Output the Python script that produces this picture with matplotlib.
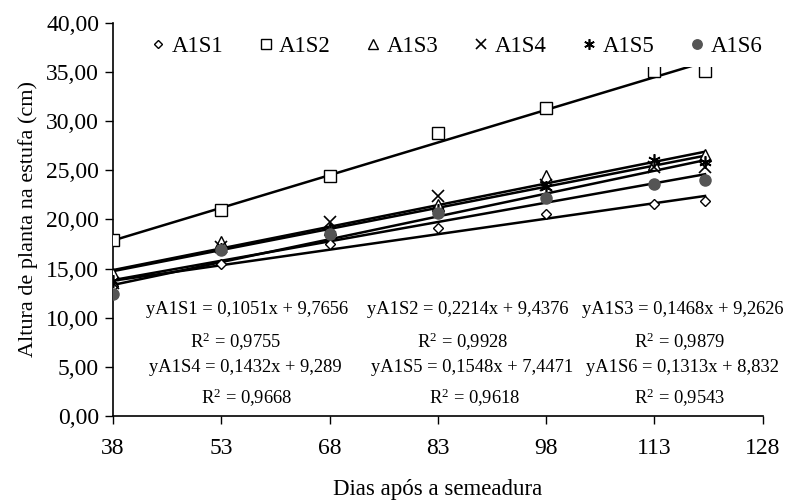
import numpy as np
import matplotlib
matplotlib.use("Agg")
import matplotlib.pyplot as plt
from matplotlib.ticker import FuncFormatter

plt.rcParams.update({
    'font.family': 'Liberation Serif',
    'mathtext.fontset': 'custom',
    'mathtext.rm': 'Liberation Serif',
    'mathtext.it': 'Liberation Serif:italic',
    'font.size': 14,
})

# ── Data ─────────────────────────────────────────────
DAYS = [38, 53, 68, 83, 98, 113, 120]
A1S1 = [13.2, 15.5, 17.5, 19.1, 20.5, 21.6, 21.9]
A1S2 = [17.9, 20.9, 24.4, 28.8, 31.3, 35.1, 35.1]
A1S3 = [14.4, 17.7, 19.0, 21.5, 24.4, 25.6, 26.5]
A1S4 = [13.5, 17.2, 19.7, 22.4, 23.5, 25.3, 25.3]
A1S5 = [13.7, 17.0, 19.0, 21.0, 23.3, 26.0, 25.8]
A1S6 = [12.4, 16.9, 18.5, 20.6, 22.2, 23.6, 24.0]

NAMES = ["A1S1", "A1S2", "A1S3", "A1S4", "A1S5", "A1S6"]
SLOPES = [0.1051, 0.2214, 0.1468, 0.1432, 0.1548, 0.1313]
INTERCEPTS = [9.7656, 9.4376, 9.2626, 9.289, 7.4471, 8.832]
R2 = ["0,9755", "0,9928", "0,9879", "0,9668", "0,9618", "0,9543"]
EQ_TXT = ["0,1051x + 9,7656", "0,2214x + 9,4376", "0,1468x + 9,2626",
          "0,1432x + 9,289", "0,1548x + 7,4471", "0,1313x + 8,832"]

SERIES = [A1S1, A1S2, A1S3, A1S4, A1S5, A1S6]
MARK = {
    "A1S1": dict(marker='D', ms=5, mfc='white', mec='black', mew=1.0),
    "A1S2": dict(marker='s', ms=8, mfc='white', mec='black', mew=1.0),
    "A1S3": dict(marker='^', ms=8, mfc='white', mec='black', mew=1.0),
    "A1S4": dict(marker='x', ms=8, mfc='black', mec='black', mew=1.2),
    "A1S5": dict(marker=(6, 2, 0), ms=9, mfc='black', mec='black', mew=1.2),
    "A1S6": dict(marker='o', ms=8, mfc='#555555', mec='#555555', mew=1.0),
}

fig = plt.figure(figsize=(7.88, 5.04), dpi=100)
ax = fig.add_axes([0.1434, 0.1746, 0.8246, 0.7804])

xfit = np.array([DAYS[0], DAYS[-1]])
for name, ys, a, b in zip(NAMES, SERIES, SLOPES, INTERCEPTS):
    ax.plot(xfit, a * xfit + b, color='black', lw=1.8, zorder=2)
    ax.plot(DAYS, ys, ls='none', label=name, zorder=3, **MARK[name])

# equations (centres)
eq_x = [56.5, 87.2, 116.9, 56.3, 87.7, 116.9]
r2_x = [55.0, 86.5, 116.5, 56.5, 88.1, 116.5]
eq_y = [10.8, 10.8, 10.8, 4.9, 4.9, 4.9]
r2_y = [7.5, 7.5, 7.5, 1.8, 1.8, 1.8]
for ex, ey, rx, ry, name, eq, r2 in zip(eq_x, eq_y, r2_x, r2_y, NAMES, EQ_TXT, R2):
    ax.text(ex, ey, f"y{name} = {eq}", ha='center', va='center', fontsize=13.3)
    ax.text(rx, ry, f"R$^2$ = {r2}", ha='center', va='center', fontsize=13.3)

ax.set_xlim(38, 128)
ax.set_ylim(0, 40)
ax.set_xticks(np.arange(38, 129, 15))
ax.set_yticks(np.arange(0, 41, 5))
ax.yaxis.set_major_formatter(FuncFormatter(lambda v, p: f"{v:.2f}".replace('.', ',')))
ax.tick_params(axis='both', labelsize=17, length=6, width=1.0, direction='out')
ax.tick_params(axis='x', pad=10)
ax.tick_params(axis='y', pad=4)
ax.spines['top'].set_visible(False)
ax.spines['right'].set_visible(False)
ax.spines['left'].set_linewidth(1.2)
ax.spines['bottom'].set_linewidth(1.2)
ax.set_xlabel("Dias após a semeadura", fontsize=16.5, labelpad=14)
ax.set_ylabel("Altura de planta na estufa (cm)", fontsize=16, labelpad=6)

leg = ax.legend(loc='upper center', bbox_to_anchor=(0.53, 1.0), ncol=6,
                frameon=True, fontsize=16.5, handlelength=0.5, handletextpad=0.35,
                columnspacing=1.6, borderaxespad=0.2, markerscale=0.85)
leg.get_frame().set_edgecolor('none')
leg.get_frame().set_facecolor('white')
leg.get_frame().set_alpha(1.0)
leg.set_zorder(5)

fig.savefig("out.png", dpi=100)
